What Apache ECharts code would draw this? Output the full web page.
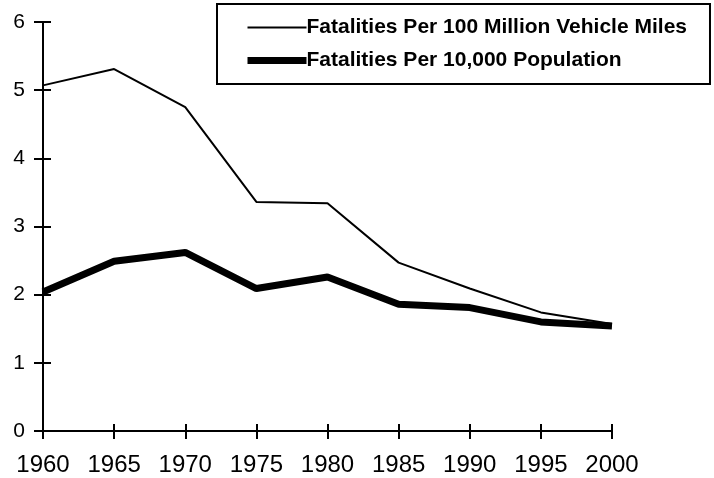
<!DOCTYPE html>
<html>
<head>
<meta charset="utf-8">
<script src="https://cdn.jsdelivr.net/npm/echarts@6/dist/echarts.min.js"></script>
<style>
  html, body { margin: 0; padding: 0; background: #fff; }
  #chart { width: 714px; height: 478px; }
</style>
</head>
<body>
<div id="chart"></div>
<script>
// data
var years = [ '1960', '1965', '1970', '1975', '1980', '1985', '1990', '1995', '2000' ];
var perVehicleMiles = [ 5.07, 5.31, 4.75, 3.36, 3.34, 2.47, 2.09, 1.74, 1.57 ];
var perPopulation = [ 2.04, 2.49, 2.62, 2.09, 2.26, 1.86, 1.81, 1.60, 1.54 ];
var nameMiles = 'Fatalities Per 100 Million Vehicle Miles';
var namePop = 'Fatalities Per 10,000 Population';

var myChart = echarts.init( document.getElementById( 'chart' ) );

var axisLine = { show: true, lineStyle: { color: '#000', width: 2 } };
var tickStyle = { color: '#000', width: 2 };

var option = {
    animation: false,
    backgroundColor: '#fff',
    textStyle: { fontFamily: 'Liberation Sans, Arial, sans-serif' },
    grid: { left: 43, right: 102, top: 22, bottom: 47 },
    legend: {
        data: [ nameMiles, namePop ],
        orient: 'vertical',
        left: 217,
        top: 4,
        padding: [ 13, 23, 13, 27 ],
        itemWidth: 59,
        itemHeight: 14,
        itemGap: 12,
        borderColor: '#000',
        borderWidth: 2,
        // 只画线, 不画圆点
        itemStyle: { opacity: 0 },
        lineStyle: { width: 'inherit', cap: 'butt' },
        textStyle: {
            color: '#000',
            fontSize: 21,
            fontWeight: 'bold',
            fontFamily: 'Liberation Sans, Arial, sans-serif',
            padding: [ 0, 0, 0, -5 ]
        }
    },
    xAxis: [ {
        type: 'category',
        data: years,
        boundaryGap: false,
        axisLine: axisLine,
        axisTick: { show: true, length: 8, lineStyle: tickStyle },
        axisLabel: { color: '#000', fontSize: 24, margin: 22 },
        splitLine: { show: false }
    }, {
        type: 'category',
        data: years,
        boundaryGap: false,
        position: 'bottom',
        axisLine: axisLine,
        axisTick: { show: true, inside: true, length: 7, lineStyle: tickStyle },
        axisLabel: { show: false },
        splitLine: { show: false }
    } ],
    yAxis: [ {
        type: 'value',
        min: 0,
        max: 6,
        interval: 1,
        axisLine: axisLine,
        axisTick: { show: true, length: 9, lineStyle: tickStyle },
        axisLabel: { color: '#000', fontSize: 21, margin: 18 },
        splitLine: { show: false }
    }, {
        type: 'value',
        min: 0,
        max: 6,
        interval: 1,
        position: 'left',
        axisLine: axisLine,
        axisTick: { show: true, inside: true, length: 8, lineStyle: tickStyle },
        axisLabel: { show: false },
        splitLine: { show: false }
    } ],
    series: [ {
        name: nameMiles,
        type: 'line',
        data: perVehicleMiles,
        symbol: 'none',
        lineStyle: { color: '#000', width: 2 },
        itemStyle: { color: '#000' }
    }, {
        name: namePop,
        type: 'line',
        data: perPopulation,
        symbol: 'none',
        lineStyle: { color: '#000', width: 7 },
        itemStyle: { color: '#000' }
    } ]
};

myChart.setOption( option );
</script>
</body>
</html>
